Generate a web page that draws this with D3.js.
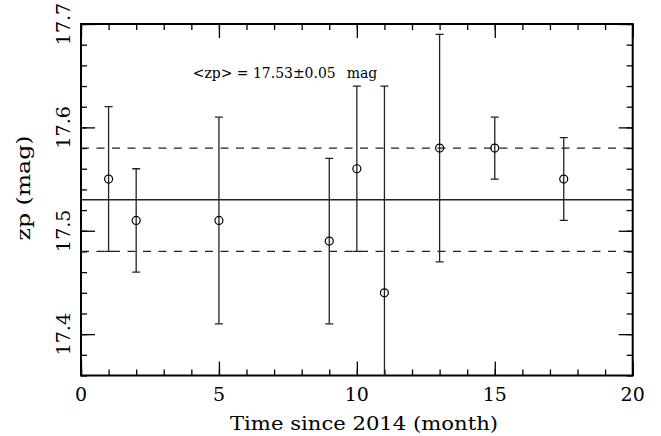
<!DOCTYPE html>
<html>
<head>
<meta charset="utf-8">
<script src="https://cdn.jsdelivr.net/npm/d3@7"></script>
<style>
  html, body { margin: 0; padding: 0; background: #fff; }
  svg { display: block; }
  text { font-family: "DejaVu Serif", "Liberation Serif", serif; fill: #000; }
</style>
</head>
<body>
<svg id="chart" width="661" height="436"></svg>
<script>
// ---- data ----
const months = [1, 2, 5, 9, 10, 11, 13, 15, 17.5];
const zp     = [17.55, 17.51, 17.51, 17.49, 17.56, 17.44, 17.58, 17.58, 17.55];
const zpErr  = [0.07, 0.05, 0.10, 0.08, 0.08, 0.20, 0.11, 0.03, 0.04];
const meanZp = 17.53;
const sigmaZp = 0.05;
const xMajorTicks = [0, 5, 10, 15, 20];
const yMajorTicks = [17.4, 17.5, 17.6, 17.7];
const xTitle = "Time since 2014 (month)";
const yTitle = "zp (mag)";
const annotation = "<zp> = 17.53\u00b10.05";
const annotationUnit = "mag";

// ---- layout ----
const W = 661, H = 436;
const m = { left: 81, top: 24, right: 28.3, bottom: 60.5 };
const iw = W - m.left - m.right, ih = H - m.top - m.bottom;

const svg = d3.select("#chart");
const g = svg.append("g").attr("transform", `translate(${m.left},${m.top})`);

const x = d3.scaleLinear().domain([0, 20]).range([0, iw]);
const y = d3.scaleLinear().domain([17.36, 17.7]).range([ih, 0]);

svg.append("defs").append("clipPath").attr("id", "clip")
  .append("rect").attr("width", iw).attr("height", ih);

const xMinor = d3.range(0, 21, 1);
const yMinor = d3.range(17.36, 17.7001, 0.02).map(v => +v.toFixed(2));

function styleAxis(sel) {
  sel.select(".domain").remove();
  sel.selectAll(".tick line").attr("stroke", "#000").attr("stroke-width", 1.3);
  sel.selectAll(".tick text").remove();
}

// minor + major ticks on four sides (inward)
[[d3.axisBottom, ih, xMinor, 6], [d3.axisBottom, ih, xMajorTicks, 14],
 [d3.axisTop, 0, xMinor, 6], [d3.axisTop, 0, xMajorTicks, 14]].forEach(([ax, ty, tv, ts]) => {
  g.append("g").attr("transform", `translate(0,${ty})`)
    .call(ax(x).tickValues(tv).tickSize(-ts)).call(styleAxis);
});
[[d3.axisLeft, 0, yMinor, 6], [d3.axisLeft, 0, yMajorTicks, 14],
 [d3.axisRight, iw, yMinor, 6], [d3.axisRight, iw, yMajorTicks, 14]].forEach(([ax, tx, tv, ts]) => {
  g.append("g").attr("transform", `translate(${tx},0)`)
    .call(ax(y).tickValues(tv).tickSize(-ts)).call(styleAxis);
});

// frame
g.append("rect").attr("width", iw).attr("height", ih)
  .attr("fill", "none").attr("stroke", "#000").attr("stroke-width", 2);

// x tick labels
g.selectAll(".xlab").data(xMajorTicks).enter().append("text")
  .attr("x", d => x(d)).attr("y", ih + 25.5)
  .attr("text-anchor", "middle").attr("font-size", 19)
  .text(d => d);

// y tick labels (rotated)
g.selectAll(".ylab").data(yMajorTicks).enter().append("text")
  .attr("transform", d => `translate(${70 - m.left},${y(d)}) rotate(-90)`)
  .attr("text-anchor", "middle").attr("font-size", 19)
  .text(d => d.toFixed(1));

// axis titles
svg.append("text").attr("x", 364).attr("y", 430)
  .attr("text-anchor", "middle").attr("font-size", 19)
  .attr("textLength", 268).attr("lengthAdjust", "spacingAndGlyphs")
  .text(xTitle);
svg.append("text").attr("transform", `translate(30,188) rotate(-90)`)
  .attr("text-anchor", "middle").attr("font-size", 18.5)
  .attr("textLength", 105).attr("lengthAdjust", "spacingAndGlyphs")
  .text(yTitle);

// annotation
const ann = svg.append("text").attr("x", 192.7).attr("y", 77.7).attr("font-size", 14);
ann.append("tspan").attr("textLength", 143).attr("lengthAdjust", "spacingAndGlyphs").text(annotation);
ann.append("tspan").attr("x", 346.7).text(annotationUnit);

const plot = g.append("g").attr("clip-path", "url(#clip)");

// mean and +-sigma lines
plot.append("line").attr("x1", 0).attr("x2", iw)
  .attr("y1", y(meanZp)).attr("y2", y(meanZp))
  .attr("stroke", "#222").attr("stroke-width", 1.3);
[meanZp + sigmaZp, meanZp - sigmaZp].forEach(v => {
  plot.append("line").attr("x1", 0).attr("x2", iw)
    .attr("y1", y(v)).attr("y2", y(v))
    .attr("stroke", "#222").attr("stroke-width", 1.3)
    .attr("stroke-dasharray", "8,7.5");
});

// error bars
const pts = months.map((mo, i) => ({ x: mo, y: zp[i], e: zpErr[i] }));
const eb = plot.selectAll(".eb").data(pts).enter().append("g");
eb.append("line")
  .attr("x1", d => x(d.x)).attr("x2", d => x(d.x))
  .attr("y1", d => y(d.y - d.e)).attr("y2", d => y(d.y + d.e))
  .attr("stroke", "#222").attr("stroke-width", 1.3);
[-1, 1].forEach(s => {
  eb.append("line")
    .attr("x1", d => x(d.x) - 4).attr("x2", d => x(d.x) + 4)
    .attr("y1", d => y(d.y + s * d.e)).attr("y2", d => y(d.y + s * d.e))
    .attr("stroke", "#222").attr("stroke-width", 1.3);
});
eb.append("circle")
  .attr("cx", d => x(d.x)).attr("cy", d => y(d.y)).attr("r", 4)
  .attr("fill", "none").attr("stroke", "#000").attr("stroke-width", 1.2);
</script>
</body>
</html>
